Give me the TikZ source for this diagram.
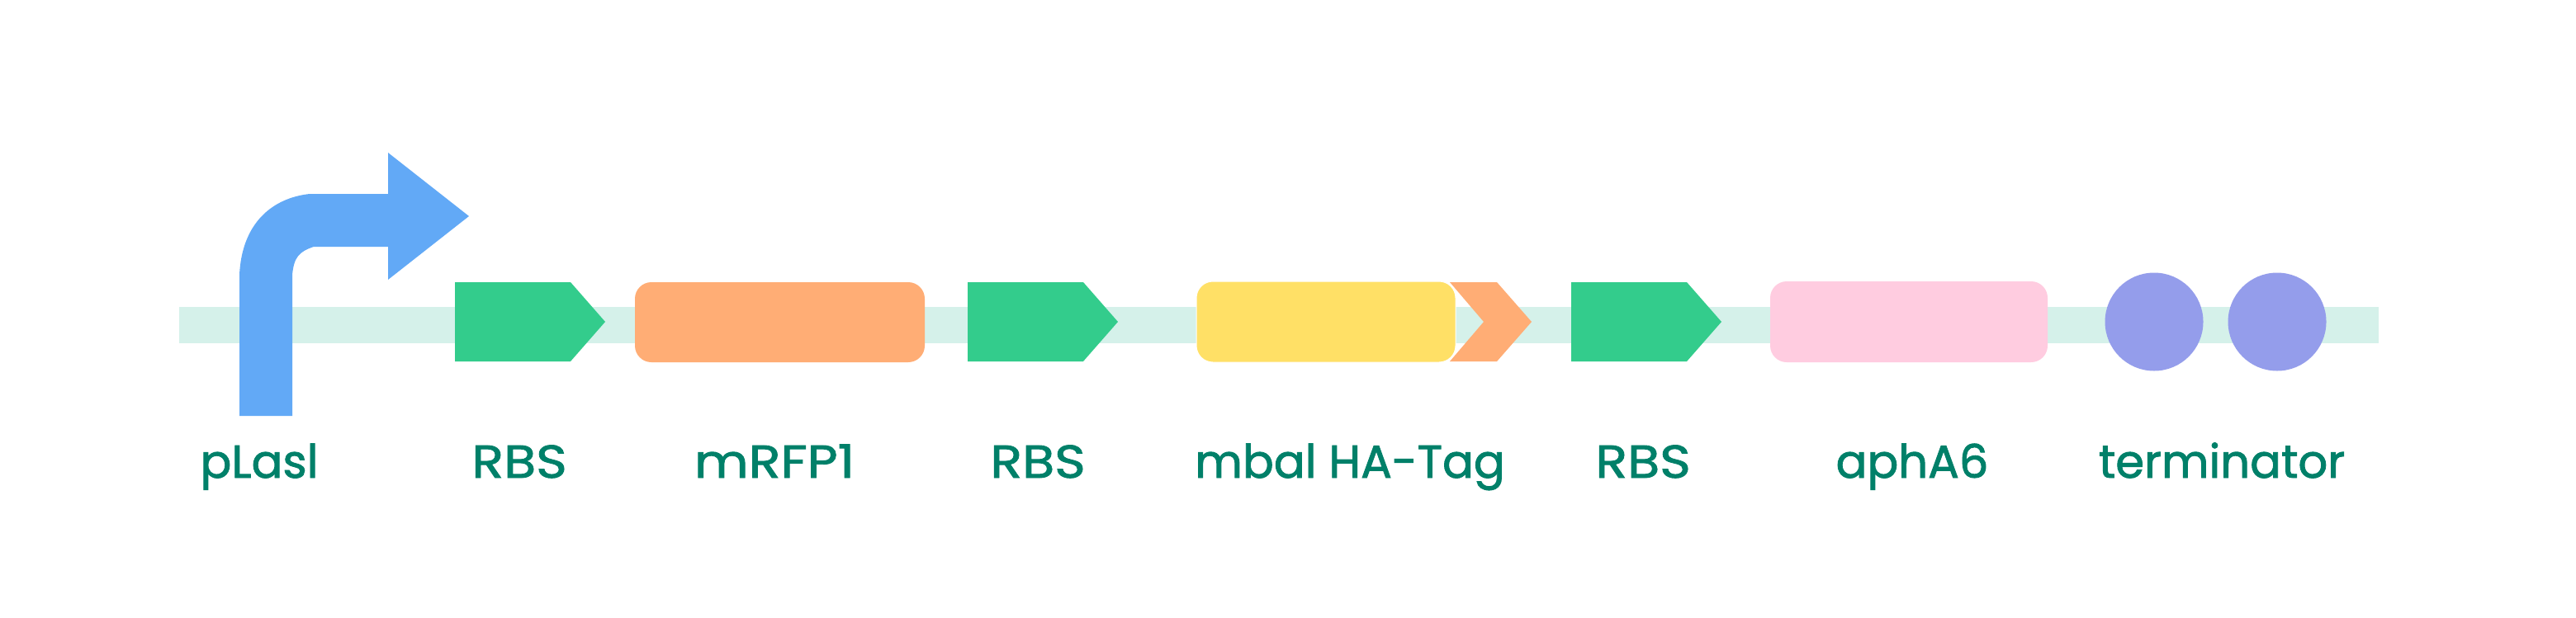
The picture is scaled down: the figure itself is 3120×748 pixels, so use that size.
\documentclass[tikz,border=0pt]{standalone}
\usepackage{fontspec}
\setmainfont{Poppins}[FakeBold=1.6]
\newfontfamily\capsface{Poppins}[FakeBold=1.6,FakeStretch=1.14]
\definecolor{backbone}{HTML}{D5F1EA}
\definecolor{promoter}{HTML}{62A9F6}
\definecolor{rbs}{HTML}{33CC8C}
\definecolor{cdsorange}{HTML}{FFAD75}
\definecolor{cdsyellow}{HTML}{FFE066}
\definecolor{cdspink}{HTML}{FFCCE0}
\definecolor{term}{HTML}{949DEB}
\definecolor{labelc}{HTML}{008069}
\tikzset{
  x=1pt,y=-1pt,
  lab/.style={text=labelc,inner sep=0pt,anchor=base,font=\fontsize{56}{60}\selectfont},
  capslab/.style={lab,font=\fontsize{56}{60}\selectfont\capsface},
  cds/.style={rounded corners=20pt},
}
\newcommand{\rbsat}[1]{\fill[rbs] (#1,342) -- ++(140,0) -- ++(42,48) -- ++(-42,48) -- ++(-140,0) -- cycle;}
\begin{document}
\begin{tikzpicture}
\useasboundingbox (0,0) rectangle (3120,748);
\fill[white] (0,0) rectangle (3120,748);
\fill[backbone] (217,372) rectangle (2881,416);
% promoter
\fill[promoter] (290,504) -- (290,333) .. controls (293,270) and (330,240) .. (375,235) -- (470,235) -- (470,185) -- (568,262) -- (470,339) -- (470,299) -- (380,299) .. controls (362,305) and (356,312) .. (354,333) -- (354,504) -- cycle;
\rbsat{551}
\rbsat{1172}
\rbsat{1903}
\fill[cdsorange,cds] (769,342) rectangle (1120,439);
% tag chevron
\fill[cdsorange] (1756,342) -- (1813,342) -- (1855,390) -- (1813,438) -- (1756,438) -- (1797,390) -- cycle;
\fill[cdsyellow,cds,draw=white,line width=1pt] (1449,341) rectangle (1763,439);
\fill[cdspink,cds] (2144,341) rectangle (2480,439);
\fill[term] (2609,390) circle (59.5);
\fill[term] (2758,390) circle (59.5);
\node[lab] (l1) at (314,579) {pLasl};
\node[capslab] (l2) at (629,579) {RBS};
\node[capslab] (l3) at (938,579) {mRFP1};
\node[capslab] (l4) at (1257,579) {RBS};
\node[lab] (l5) at (1635,579) {mbal HA-Tag};
\node[capslab] (l6) at (1990,579) {RBS};
\node[lab] (l7) at (2316,579) {aphA6};
\node[lab] (l8) at (2691,579) {terminator};
\end{tikzpicture}
\end{document}
